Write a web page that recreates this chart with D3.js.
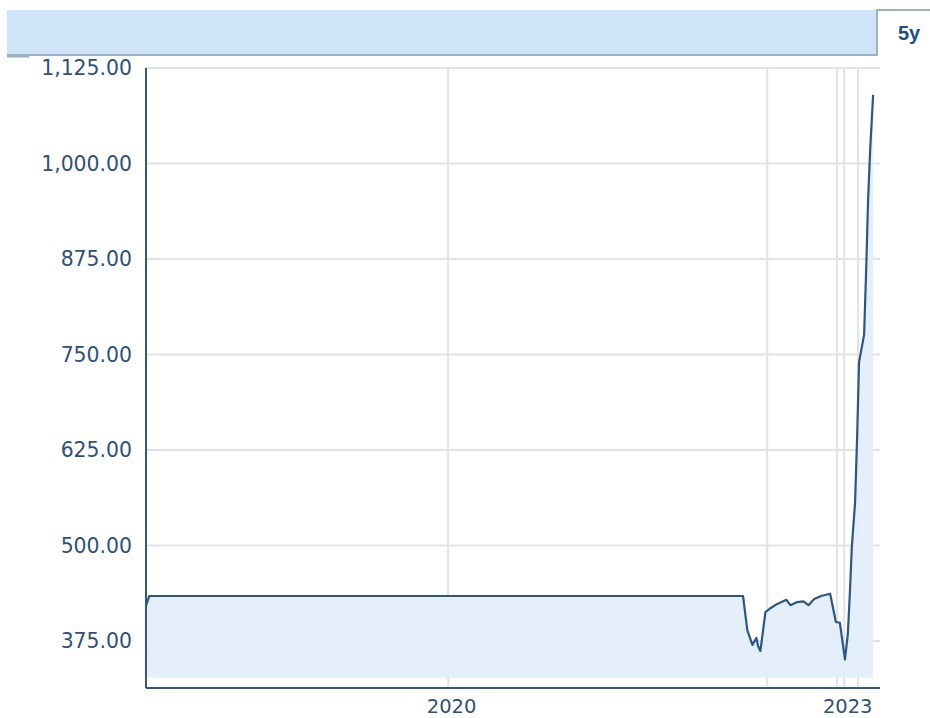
<!DOCTYPE html>
<html>
<head>
<meta charset="utf-8">
<script src="https://cdn.jsdelivr.net/npm/d3@7"></script>
<style>
  html, body { margin: 0; padding: 0; background: #ffffff; }
  svg { display: block; }
</style>
</head>
<body>
<svg id="chart" width="930" height="718"></svg>
<script>
// ---- data ----
const dates = [
  "2017-09-17","2017-09-26","2022-03-27","2022-04-08","2022-04-22","2022-05-03",
  "2022-05-08","2022-05-14","2022-05-28","2022-06-11","2022-06-27","2022-07-16",
  "2022-07-25","2022-08-05","2022-08-24","2022-09-10","2022-09-24","2022-10-10",
  "2022-10-29","2022-11-23","2022-12-09","2022-12-20","2023-01-03","2023-01-11",
  "2023-01-17","2023-01-22","2023-01-31","2023-02-06","2023-02-11","2023-02-25",
  "2023-03-03","2023-03-08","2023-03-14","2023-03-22"
];
const values = [
  421, 434, 434, 389, 370, 379,
  368, 362, 413, 418, 423, 427,
  429, 422, 426, 427, 422, 430,
  434, 437, 400, 399, 351, 384,
  442, 498, 556, 647, 740, 776,
  865, 952, 1020, 1090
];
const yTicks = [375, 500, 625, 750, 875, 1000, 1125];
const xLabelDates = ["2020-01-01", "2023-01-01"];
const xLabels = ["2020", "2023"];
const xGridDates = ["2020-01-01", "2022-06-02", "2022-12-12", "2023-01-01", "2023-02-08"];
const rangeLabel = "5y";
const xDomain = ["2017-09-17", "2023-04-10"];
const yDomain = [313.6, 1125];
const areaBase = 327;

// ---- layout ----
const parse = d3.timeParse("%Y-%m-%d");
const L = 146, R = 880, T = 68, B = 688;
const svg = d3.select("#chart");

const x = d3.scaleTime().domain(xDomain.map(parse)).range([L, R]);
const y = d3.scaleLinear().domain(yDomain).range([B, T]);

const data = dates.map((d, i) => ({ date: parse(d), value: values[i] }));

// header bar
svg.append("rect").attr("x", 7).attr("y", 10).attr("width", 870).attr("height", 45)
  .attr("fill", "#cfe4f7");
svg.append("rect").attr("x", 7).attr("y", 54).attr("width", 870).attr("height", 2)
  .attr("fill", "#9bb1c8");
svg.append("rect").attr("x", 7).attr("y", 56).attr("width", 22).attr("height", 1.5)
  .attr("fill", "#9bb1c8");
// tab
svg.append("rect").attr("x", 877).attr("y", 9).attr("width", 53).attr("height", 2)
  .attr("fill", "#9bb1c8");
svg.append("rect").attr("x", 876).attr("y", 9).attr("width", 2).attr("height", 47)
  .attr("fill", "#9bb1c8");
svg.append("text").attr("x", 909).attr("y", 40).attr("text-anchor", "middle")
  .attr("font-family", "Liberation Sans, Arial, sans-serif").attr("font-weight", "bold")
  .attr("font-size", 20).attr("fill", "#1d4f7c").text(rangeLabel);

// gridlines
const grid = svg.append("g");
grid.selectAll("line.h").data(yTicks).enter().append("line")
  .attr("x1", L).attr("x2", R)
  .attr("y1", d => y(d)).attr("y2", d => y(d))
  .attr("stroke", "#e3e3e3").attr("stroke-width", 2);
grid.selectAll("line.v").data(xGridDates).enter().append("line")
  .attr("x1", d => x(parse(d))).attr("x2", d => x(parse(d)))
  .attr("y1", T).attr("y2", B)
  .attr("stroke", "#e3e3e3").attr("stroke-width", 2);

// area + line
const area = d3.area().x(d => x(d.date)).y0(y(areaBase)).y1(d => y(d.value));
svg.append("path").datum(data).attr("d", area).attr("fill", "#e2eef9").attr("opacity", 0.92);
const line = d3.line().x(d => x(d.date)).y(d => y(d.value));
svg.append("path").datum(data).attr("d", line).attr("fill", "none")
  .attr("stroke", "#2c5785").attr("stroke-width", 2.2).attr("stroke-linejoin", "round");

// axes
svg.append("line").attr("x1", L).attr("x2", L).attr("y1", T).attr("y2", B)
  .attr("stroke", "#34597f").attr("stroke-width", 2);
svg.append("line").attr("x1", L).attr("x2", R).attr("y1", B).attr("y2", B)
  .attr("stroke", "#34597f").attr("stroke-width", 2);

const fmt = d3.format(",.2f");
svg.append("g").selectAll("text").data(yTicks).enter().append("text")
  .attr("x", 132).attr("y", d => y(d)).attr("dy", "0.36em")
  .attr("text-anchor", "end")
  .attr("font-family", "DejaVu Sans, Verdana, sans-serif").attr("font-size", 20.4)
  .attr("fill", "#2f5079").text(d => fmt(d));

svg.append("g").selectAll("text").data(xLabelDates).enter().append("text")
  .attr("x", d => x(parse(d)) + 3.5).attr("y", 713)
  .attr("text-anchor", "middle")
  .attr("font-family", "DejaVu Sans, Verdana, sans-serif").attr("font-size", 19.5)
  .attr("fill", "#2f5079").text((d, i) => xLabels[i]);
</script>
</body>
</html>
